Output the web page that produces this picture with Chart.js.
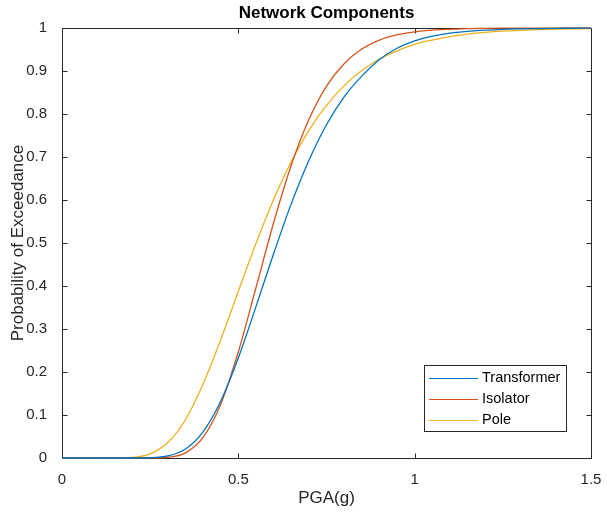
<!DOCTYPE html>
<html>
<head>
<meta charset="utf-8">
<script src="https://cdn.jsdelivr.net/npm/chart.js@4.4.0/dist/chart.umd.min.js"></script>
<style>
  html, body { margin: 0; padding: 0; background: #ffffff; }
  #wrap { width: 607px; height: 513px; position: relative; }
</style>
</head>
<body>
<div id="wrap"><canvas id="c" width="607" height="513"></canvas></div>
<script>
const chartTitle = "Network Components";
const xAxisTitle = "PGA(g)";
const yAxisTitle = "Probability of Exceedance";
const seriesNames = ["Transformer", "Isolator", "Pole"];

const pga = [0, 0.05, 0.1, 0.15, 0.2, 0.25, 0.3, 0.35, 0.4, 0.45, 0.5, 0.55, 0.6, 0.65, 0.7, 0.75,
             0.8, 0.85, 0.9, 0.95, 1.0, 1.05, 1.1, 1.15, 1.2, 1.25, 1.3, 1.35, 1.4, 1.45, 1.5];
const transformer = [0, 0, 0, 0, 0.00002, 0.0005, 0.0047, 0.021, 0.061, 0.132, 0.233, 0.352, 0.475, 0.591, 0.692, 0.775,
                     0.840, 0.888, 0.927, 0.953, 0.970, 0.981, 0.988, 0.992, 0.995, 0.997, 0.998, 0.9987, 0.9992, 0.9995, 0.9997];
const isolator = [0, 0, 0, 0, 0.000001, 0.0001, 0.0017, 0.012, 0.048, 0.125, 0.247, 0.396, 0.547, 0.681, 0.787, 0.865,
                  0.917, 0.951, 0.972, 0.984, 0.991, 0.995, 0.997, 0.9986, 0.9992, 0.9996, 0.9998, 0.9999, 0.9999, 1, 1];
const pole = [0, 0, 0, 0.00006, 0.0013, 0.0096, 0.036, 0.089, 0.172, 0.275, 0.388, 0.499, 0.601, 0.689, 0.762, 0.820,
              0.866, 0.901, 0.928, 0.947, 0.962, 0.972, 0.980, 0.9856, 0.9896, 0.9925, 0.9946, 0.9961, 0.9972, 0.9980, 0.9985];

const xTicks = [0, 0.5, 1, 1.5];
const xTickLabels = ["0", "0.5", "1", "1.5"];
const yTicks = [0, 0.1, 0.2, 0.3, 0.4, 0.5, 0.6, 0.7, 0.8, 0.9, 1];
const yTickLabels = ["0", "0.1", "0.2", "0.3", "0.4", "0.5", "0.6", "0.7", "0.8", "0.9", "1"];

const colors = ["#0072BD", "#D95319", "#EDB120"];
const FONT = "'Liberation Sans', Arial, Helvetica, sans-serif";
const AXIS_COLOR = "#262626";

function pts(ys) { return pga.map((x, i) => ({ x: x, y: ys[i] })); }
const seriesValues = [transformer, isolator, pole];

const framePlugin = {
  id: 'frame',
  beforeDatasetsDraw(chart) {
    const { ctx, chartArea: a, scales } = chart;
    ctx.save();
    ctx.strokeStyle = AXIS_COLOR;
    ctx.lineWidth = 1;
    const L = Math.round(a.left) + 0.5, R = Math.round(a.right) + 0.5;
    const T = Math.round(a.top) + 0.5, B = Math.round(a.bottom) + 0.5;
    ctx.beginPath();
    ctx.rect(L, T, R - L, B - T);
    ctx.stroke();
    const tl = 5;
    ctx.beginPath();
    xTicks.forEach(v => {
      const px = Math.round(scales.x.getPixelForValue(v)) + 0.5;
      ctx.moveTo(px, B); ctx.lineTo(px, B - tl);
      ctx.moveTo(px, T); ctx.lineTo(px, T + tl);
    });
    yTicks.forEach(v => {
      const py = Math.round(scales.y.getPixelForValue(v)) + 0.5;
      ctx.moveTo(L, py); ctx.lineTo(L + tl, py);
      ctx.moveTo(R, py); ctx.lineTo(R - tl, py);
    });
    ctx.stroke();
    ctx.restore();
  },
  afterDraw(chart) {
    const { ctx, chartArea: a } = chart;
    ctx.save();
    // title
    ctx.fillStyle = "#000000";
    ctx.font = "bold 17px " + FONT;
    ctx.textAlign = "center";
    ctx.textBaseline = "middle";
    ctx.fillText(chartTitle, (a.left + a.right) / 2, 13);
    // legend
    const bx = 424.5, by = 365.5, bw = 142, bh = 66;
    ctx.fillStyle = "#ffffff";
    ctx.fillRect(bx, by, bw, bh);
    ctx.strokeStyle = "#262626";
    ctx.lineWidth = 1;
    ctx.strokeRect(bx, by, bw, bh);
    ctx.font = "14.5px " + FONT;
    ctx.textAlign = "left";
    ctx.textBaseline = "middle";
    chart.data.datasets.forEach((ds, i) => {
      const yy = 378 + i * 21;
      ctx.strokeStyle = ds.borderColor;
      ctx.lineWidth = 1.2;
      ctx.beginPath();
      ctx.moveTo(429, yy + 0.5);
      ctx.lineTo(478, yy + 0.5);
      ctx.stroke();
      ctx.fillStyle = "#000000";
      ctx.fillText(ds.label, 482, yy);
    });
    ctx.restore();
  }
};

new Chart(document.getElementById('c'), {
  type: 'line',
  data: {
    datasets: seriesNames.map((n, i) => ({
      label: n,
      data: pts(seriesValues[i]),
      borderColor: colors[i],
      backgroundColor: colors[i],
      borderWidth: 1.3,
      pointRadius: 0,
      fill: false,
      cubicInterpolationMode: 'monotone',
      clip: 2
    }))
  },
  options: {
    responsive: false,
    animation: false,
    devicePixelRatio: 1,
    layout: { padding: { top: 28, right: 16, left: 0, bottom: 0 } },
    plugins: {
      legend: { display: false },
      title: { display: false },
      tooltip: { enabled: false }
    },
    scales: {
      x: {
        type: 'linear',
        min: 0, max: 1.5,
        afterBuildTicks(s) { s.ticks = xTicks.map(v => ({ value: v })); },
        afterFit(s) { s.height = 55; },
        grid: { display: false },
        border: { display: false },
        ticks: {
          color: AXIS_COLOR,
          font: { family: FONT, size: 15 },
          padding: 5,
          maxRotation: 0,
          callback: (v) => { const k = xTicks.indexOf(v); return k >= 0 ? xTickLabels[k] : ''; }
        },
        title: { display: true, text: xAxisTitle, color: AXIS_COLOR, font: { family: FONT, size: 17 }, padding: { top: 1 } }
      },
      y: {
        type: 'linear',
        min: 0, max: 1,
        afterBuildTicks(s) { s.ticks = yTicks.map(v => ({ value: v })); },
        afterFit(s) { s.width = 62; },
        grid: { display: false },
        border: { display: false },
        ticks: {
          color: AXIS_COLOR,
          font: { family: FONT, size: 15 },
          padding: 7,
          callback: (v) => { const k = yTicks.indexOf(v); return k >= 0 ? yTickLabels[k] : ''; }
        },
        title: { display: true, text: yAxisTitle, color: AXIS_COLOR, font: { family: FONT, size: 17 }, padding: { top: 8, bottom: 0 } }
      }
    }
  },
  plugins: [framePlugin]
});
</script>
</body>
</html>
